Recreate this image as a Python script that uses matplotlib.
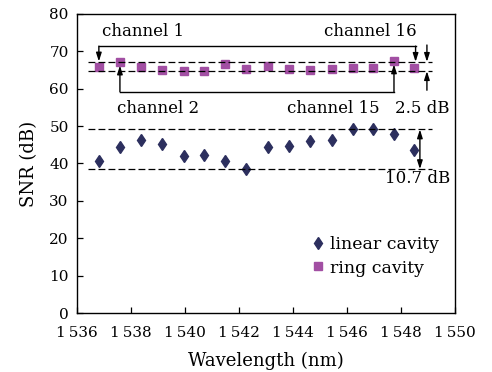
import matplotlib
matplotlib.use("Agg")
import matplotlib.pyplot as plt

plt.rcParams['font.family'] = ['DejaVu Serif']
plt.rcParams['mathtext.fontset'] = 'dejavuserif'

wavelength = [1536.81, 1537.59, 1538.36, 1539.15, 1539.95, 1540.71, 1541.48, 1542.27,
              1543.09, 1543.85, 1544.62, 1545.46, 1546.21, 1546.96, 1547.74, 1548.47]
snr_linear = [40.6, 44.5, 46.2, 45.3, 41.9, 42.2, 40.6, 38.5,
              44.5, 44.6, 45.9, 46.3, 49.1, 49.1, 47.8, 43.6]
snr_ring = [65.7, 67.1, 65.7, 65.0, 64.8, 64.8, 66.6, 65.2,
            66.1, 65.4, 65.0, 65.4, 65.6, 65.6, 67.5, 65.6]
ring_lines = [67.2, 64.7]
linear_lines = [49.1, 38.5]
xticks = [1536, 1538, 1540, 1542, 1544, 1546, 1548, 1550]
xticklabels = ['1\u2009536', '1\u2009538', '1\u2009540', '1\u2009542',
               '1\u2009544', '1\u2009546', '1\u2009548', '1\u2009550']
yticks = [0, 10, 20, 30, 40, 50, 60, 70, 80]

fig = plt.figure(figsize=(4.92, 3.72), dpi=100)
ax = fig.add_axes([0.1565, 0.1586, 0.7683, 0.8038])

c_lin = '#2c2f5e'
c_ring = '#a24fa3'
fs = 11
fa = 12

ax.plot(wavelength, snr_linear, 'd', color=c_lin, markersize=6, label='linear cavity')
ax.plot(wavelength, snr_ring, 's', color=c_ring, markersize=5.2, label='ring cavity')

for yv in ring_lines + linear_lines:
    ax.plot([1536.41, 1549.15], [yv, yv], '--', color='black', lw=0.9, dashes=(5.5, 2.5))

ap = dict(arrowstyle='-|>,head_length=0.5,head_width=0.16', color='black', lw=1.0,
          shrinkA=0, shrinkB=0)

# upper bracket: channel 1 -> channel 16
yb = 71.4
ax.plot([wavelength[0], 1548.54], [yb, yb], color='black', lw=1.0)
ax.annotate('', xy=(wavelength[0], snr_ring[0] + 1.6), xytext=(wavelength[0], yb), arrowprops=ap)
ax.annotate('', xy=(1548.54, snr_ring[15] + 1.6), xytext=(1548.54, yb), arrowprops=ap)
# lower bracket: channel 2 -> channel 15
yl = 59.2
ax.plot([wavelength[1], wavelength[14]], [yl, yl], color='black', lw=1.0)
ax.annotate('', xy=(wavelength[1], snr_ring[1] - 0.9), xytext=(wavelength[1], yl), arrowprops=ap)
ax.annotate('', xy=(wavelength[14], snr_ring[14] - 1.0), xytext=(wavelength[14], yl), arrowprops=ap)

ax.text(1538.44, 75.2, 'channel 1', ha='center', va='center', fontsize=fa)
ax.text(1546.85, 75.2, 'channel 16', ha='center', va='center', fontsize=fa)
ax.text(1539.0, 54.8, 'channel 2', ha='center', va='center', fontsize=fa)
ax.text(1545.48, 54.8, 'channel 15', ha='center', va='center', fontsize=fa)
ax.text(1548.78, 54.8, '2.5 dB', ha='center', va='center', fontsize=fa)

# 2.5 dB arrows
ax.annotate('', xy=(1548.96, ring_lines[0]), xytext=(1548.96, 71.7), arrowprops=ap)
ax.annotate('', xy=(1548.96, ring_lines[1]), xytext=(1548.96, 59.6), arrowprops=ap)

# 10.7 dB double arrow
ap2 = dict(arrowstyle='<|-|>,head_length=0.5,head_width=0.16', color='black', lw=1.0,
           shrinkA=0, shrinkB=0)
ax.annotate('', xy=(1548.7, linear_lines[0]), xytext=(1548.7, linear_lines[1]), arrowprops=ap2)
ax.text(1548.6, 36.1, '10.7 dB', ha='center', va='center', fontsize=fa)

ax.set_xlim(1536, 1550)
ax.set_ylim(0, 80)
ax.set_xticks(xticks)
ax.set_xticklabels(xticklabels)
ax.set_yticks(yticks)
ax.tick_params(direction='in', length=4, labelsize=fs, width=0.9)
ax.tick_params(axis='x', pad=9)
ax.tick_params(axis='y', pad=6)
ax.set_xlabel('Wavelength (nm)', fontsize=13, labelpad=9)
ax.set_ylabel('SNR (dB)', fontsize=13, labelpad=8)
for s in ax.spines.values():
    s.set_linewidth(1.0)

ax.legend(loc='upper left', bbox_to_anchor=(0.6, 0.285), frameon=False, fontsize=12.5,
          handlelength=0.6, handletextpad=0.4, labelspacing=0.35, borderpad=0)

fig.savefig('out.png', dpi=100)
